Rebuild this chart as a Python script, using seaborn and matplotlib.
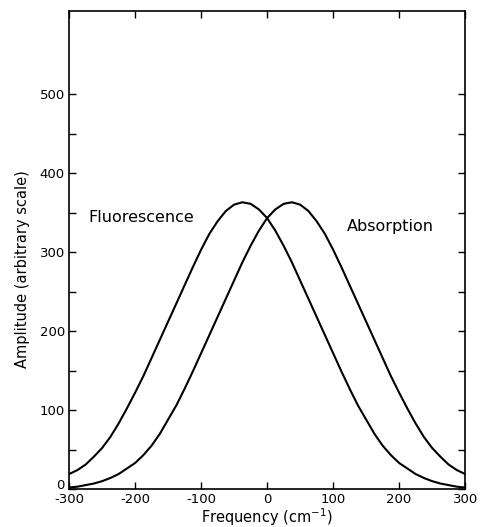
import numpy as np
import pandas as pd
import seaborn as sns
import matplotlib.pyplot as plt
from matplotlib.ticker import MultipleLocator, FixedLocator

# Values (every 12.5 cm^-1)
frequency = [-300, -287.5, -275, -262.5, -250, -237.5, -225, -212.5, -200, -187.5,
             -175, -162.5, -150, -137.5, -125, -112.5, -100, -87.5, -75, -62.5,
             -50, -37.5, -25, -12.5, 0, 12.5, 25, 37.5, 50, 62.5,
             75, 87.5, 100, 112.5, 125, 137.5, 150, 162.5, 175, 187.5,
             200, 212.5, 225, 237.5, 250, 262.5, 275, 287.5, 300]
fluorescence = [19, 24, 31, 41, 52, 66, 83, 102, 122, 143,
                166, 189, 212, 235, 258, 281, 303, 323, 339, 352,
                360, 363, 361, 354, 343, 327, 308, 287, 264, 241,
                218, 195, 172, 149, 127, 106, 88, 70, 55, 43,
                33, 26, 19, 14, 10, 7, 5, 3, 2]
absorption = [2, 3, 5, 7, 10, 14, 19, 26, 33, 43,
              55, 70, 88, 106, 127, 149, 172, 195, 218, 241,
              264, 287, 308, 327, 343, 354, 361, 363, 360, 352,
              339, 323, 303, 281, 258, 235, 212, 189, 166, 143,
              122, 102, 83, 66, 52, 41, 31, 24, 19]

df = pd.DataFrame({
    "frequency": frequency * 2,
    "amplitude": fluorescence + absorption,
    "spectrum": ["Fluorescence"] * len(frequency) + ["Absorption"] * len(frequency),
})

sns.set_style("ticks")
plt.rcParams["font.family"] = ["DejaVu Sans"]
plt.rcParams["axes.unicode_minus"] = False
plt.rcParams["text.color"] = "black"
plt.rcParams["axes.labelcolor"] = "black"

fig = plt.figure(figsize=(4.8, 5.27), dpi=100)
ax = fig.add_axes([0.144, 0.072, 0.825, 0.907])

sns.lineplot(df, x="frequency", y="amplitude", hue="spectrum",
             palette=["black", "black"], linewidth=1.5, legend=False, ax=ax)

ax.set_xlim(-300, 300)
ax.set_ylim(0, 605)
ax.xaxis.set_major_locator(MultipleLocator(100))
ax.yaxis.set_major_locator(FixedLocator([0, 100, 200, 300, 400, 500]))
ax.yaxis.set_minor_locator(FixedLocator([50, 150, 250, 350, 450]))

ax.tick_params(axis="both", which="both", direction="in", length=5, width=1,
               top=True, right=True, labelsize=9.5, colors="black")
ax.tick_params(axis="x", pad=3)
ax.tick_params(axis="y", pad=3)
for spine in ax.spines.values():
    spine.set_visible(True)
    spine.set_linewidth(1.2)
    spine.set_color("black")

# lift the "0" label so it clears the "-300" below it
fig.canvas.draw()
ax.get_yticklabels()[0].set_verticalalignment("baseline")

ax.text(-190, 344, "Fluorescence", ha="center", va="center", fontsize=11.5)
ax.text(186, 332, "Absorption", ha="center", va="center", fontsize=11.5)

ax.set_xlabel("Frequency (cm$^{-1}$)", fontsize=10.5, labelpad=0)
ax.set_ylabel("Amplitude (arbitrary scale)", fontsize=10.5)
ax.yaxis.set_label_coords(-0.099, 0.46)

fig.savefig("out.png", dpi=100)
